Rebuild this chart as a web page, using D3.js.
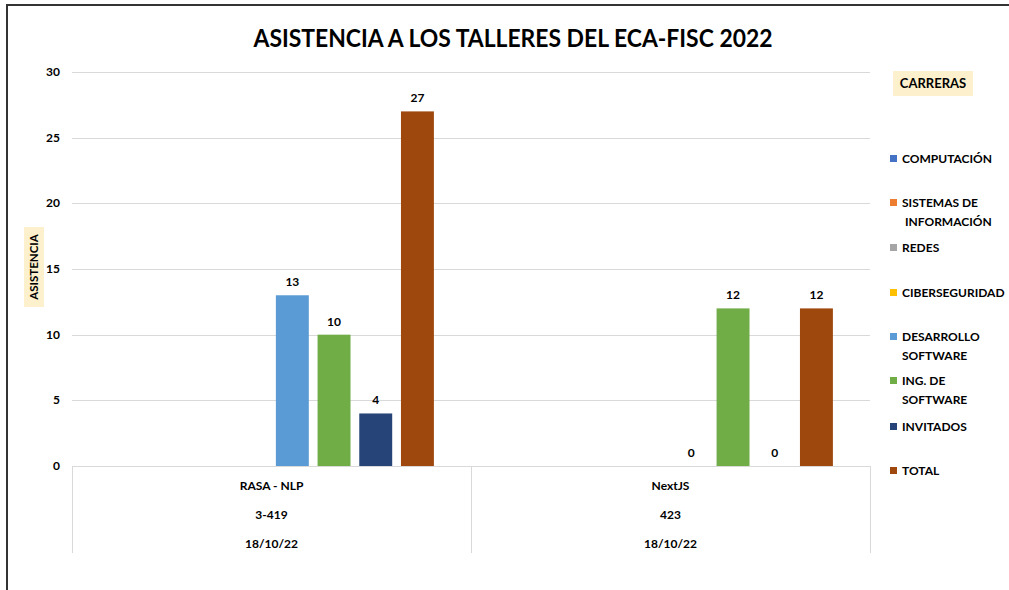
<!DOCTYPE html>
<html lang="es">
<head>
<meta charset="utf-8">
<title>Asistencia a los talleres del ECA-FISC 2022</title>
<style>
  body { margin: 0; background: #fff; font-family: Lato, "Open Sans", sans-serif; }
  svg text { font-weight: bold; fill: #000; }
  .grid line { stroke: #d9d9d9; stroke-width: 1px; }
  .cat line { stroke: #d9d9d9; stroke-width: 1px; }
</style>
</head>
<body>
<script src="https://cdn.jsdelivr.net/npm/d3@7"></script>
<script>
  // datos
  var categorias = [
    ["RASA - NLP", "3-419", "18/10/22"],
    ["NextJS", "423", "18/10/22"]
  ];
  var series = ["COMPUTACIÓN", "SISTEMAS DE INFORMACIÓN", "REDES", "CIBERSEGURIDAD",
                "DESARROLLO SOFTWARE", "ING. DE SOFTWARE", "INVITADOS", "TOTAL"];
  var legendLines = [["COMPUTACIÓN"], ["SISTEMAS DE", " INFORMACIÓN"], ["REDES"], ["CIBERSEGURIDAD"],
                     ["DESARROLLO", "SOFTWARE"], ["ING. DE", "SOFTWARE"], ["INVITADOS"], ["TOTAL"]];
  var colores = ["#4472c4", "#ed7d31", "#a5a5a5", "#ffc000", "#5b9bd5", "#70ad47", "#264478", "#9e480e"];
  // null = celda vacía
  var valoresRasa   = [null, null, null, null, 13, 10, 4, 27];
  var valoresNextjs = [null, null, null, null, 0, 12, 0, 12];
  var yTicks = [0, 5, 10, 15, 20, 25, 30];

  var valores = [valoresRasa, valoresNextjs];

  var W = 1009, H = 590;
  var plotLeft = 72, plotRight = 870, plotTop = 72, plotBottom = 466;

  var svg = d3.select("body").append("svg")
      .attr("width", W).attr("height", H);

  // marco
  svg.append("rect")
      .attr("x", 7).attr("y", 5)
      .attr("width", W + 10).attr("height", H + 10)
      .attr("fill", "none").attr("stroke", "#333").attr("stroke-width", 2);

  var x0 = d3.scaleBand().domain(d3.range(categorias.length)).range([plotLeft, plotRight]);
  var x1 = d3.scaleBand().domain(d3.range(series.length)).range([0, x0.bandwidth()])
      .paddingInner(0.21).paddingOuter(0.89);
  var y = d3.scaleLinear().domain([0, 30]).range([plotBottom, plotTop]);

  // título
  svg.append("text")
      .attr("x", 513).attr("y", 47)
      .attr("text-anchor", "middle")
      .attr("font-size", 25)
      .attr("textLength", 519).attr("lengthAdjust", "spacingAndGlyphs")
      .text("ASISTENCIA A LOS TALLERES DEL ECA-FISC 2022");

  // rejilla
  svg.append("g").attr("class", "grid")
    .selectAll("line").data(yTicks).enter().append("line")
      .attr("x1", plotLeft).attr("x2", plotRight)
      .attr("y1", function(d) { return Math.round(y(d)) + 0.5; })
      .attr("y2", function(d) { return Math.round(y(d)) + 0.5; });

  svg.append("g").selectAll("text").data(yTicks).enter().append("text")
      .attr("x", 60).attr("y", function(d) { return y(d) + 4; })
      .attr("text-anchor", "end").attr("font-size", 12)
      .text(function(d) { return d; });

  // título eje y
  var yt = svg.append("g").attr("transform", "translate(34,267) rotate(-90)");
  yt.append("rect").attr("x", -40).attr("y", -10).attr("width", 80).attr("height", 20).attr("fill", "#fdf0cc");
  yt.append("text").attr("y", 4).attr("text-anchor", "middle").attr("font-size", 11.5).text("ASISTENCIA");

  // eje de categorías multinivel
  var cat = svg.append("g").attr("class", "cat");
  cat.selectAll("line").data(d3.range(categorias.length + 1)).enter().append("line")
      .attr("x1", function(d) { return Math.round(plotLeft + d * x0.step()) + 0.5; })
      .attr("x2", function(d) { return Math.round(plotLeft + d * x0.step()) + 0.5; })
      .attr("y1", plotBottom).attr("y2", 553);

  var catG = svg.append("g").selectAll("g").data(categorias).enter().append("g")
      .attr("transform", function(d, i) { return "translate(" + (x0(i) + x0.bandwidth() / 2) + ",0)"; });
  catG.selectAll("text").data(function(d) { return d; }).enter().append("text")
      .attr("y", function(d, j) { return 490 + j * 29; })
      .attr("text-anchor", "middle").attr("font-size", 12)
      .text(function(d) { return d; });

  // barras
  var grupos = svg.append("g").selectAll("g").data(valores).enter().append("g")
      .attr("transform", function(d, i) { return "translate(" + x0(i) + ",0)"; });

  var celdas = function(vals) {
    return vals.map(function(v, j) { return { serie: j, valor: v }; })
      .filter(function(d) { return d.valor !== null; });
  };

  grupos.selectAll("rect").data(function(d) { return celdas(d).filter(function(c) { return c.valor > 0; }); })
    .enter().append("rect")
      .attr("x", function(d) { return x1(d.serie); })
      .attr("y", function(d) { return y(d.valor); })
      .attr("width", x1.bandwidth())
      .attr("height", function(d) { return y(0) - y(d.valor); })
      .attr("fill", function(d) { return colores[d.serie]; });

  grupos.selectAll("text").data(celdas).enter().append("text")
      .attr("x", function(d) { return x1(d.serie) + x1.bandwidth() / 2; })
      .attr("y", function(d) { return y(d.valor) - 9; })
      .attr("text-anchor", "middle").attr("font-size", 12)
      .text(function(d) { return d.valor; });

  // leyenda
  svg.append("rect").attr("x", 893).attr("y", 71).attr("width", 80).attr("height", 25).attr("fill", "#fdf0cc");
  svg.append("text").attr("x", 933).attr("y", 88).attr("text-anchor", "middle").attr("font-size", 13).text("CARRERAS");

  var legendY = [159, 203, 248, 293, 337, 381, 427, 471];
  var items = svg.append("g").selectAll("g").data(series).enter().append("g")
      .attr("transform", function(d, i) { return "translate(890," + legendY[i] + ")"; });
  items.append("rect").attr("x", 0).attr("y", -4).attr("width", 7).attr("height", 7)
      .attr("fill", function(d, i) { return colores[i]; });
  items.each(function(d, i) {
    var g = d3.select(this);
    legendLines[i].forEach(function(t, k) {
      g.append("text").attr("x", 12).attr("y", 4 + k * 19)
        .attr("font-size", 12)
        .style("white-space", "pre")
        .text(t);
    });
  });
</script>
</body>
</html>
